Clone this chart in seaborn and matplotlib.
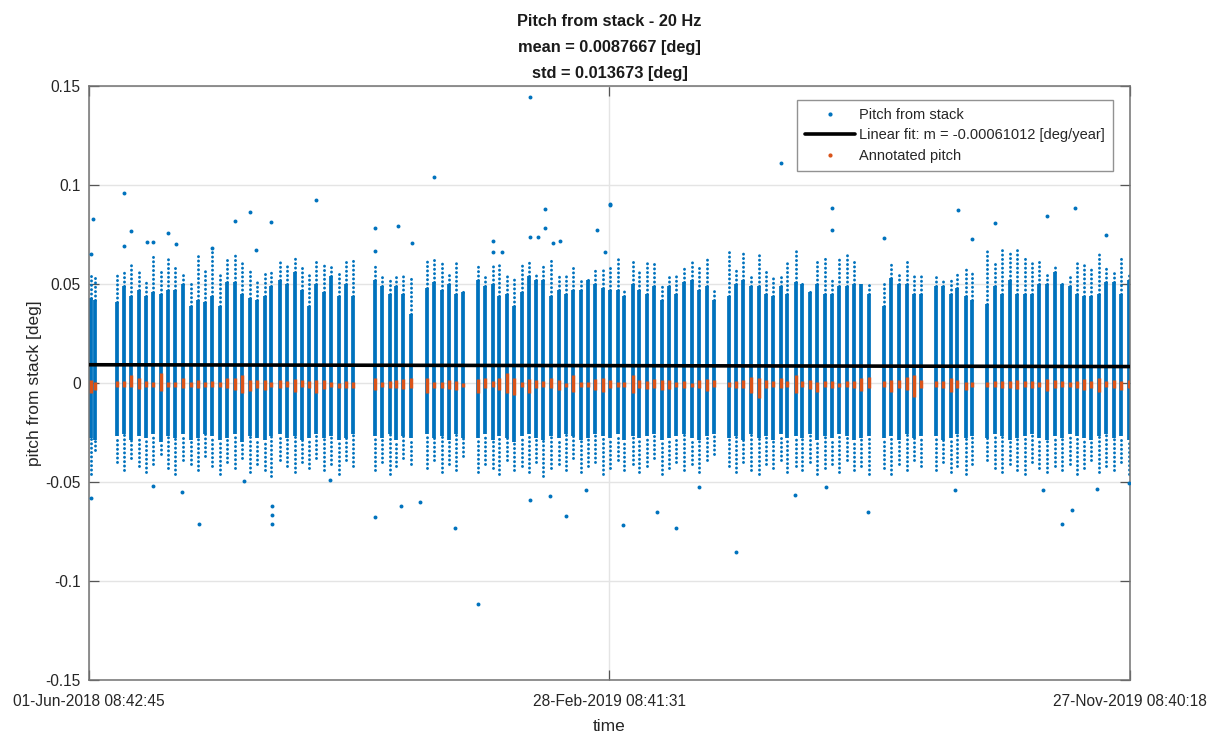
import numpy as np
import pandas as pd
import matplotlib
matplotlib.use("Agg")
import matplotlib.pyplot as plt
import matplotlib.dates as mdates
from matplotlib.lines import Line2D
import seaborn as sns

# ---------------- data ----------------
t_start = "2018-06-01 08:42:45"
t_mid = "2019-02-28 08:41:31"
t_end = "2019-11-27 08:40:18"
xtick_labels = ["01-Jun-2018 08:42:45", "28-Feb-2019 08:41:31", "27-Nov-2019 08:40:18"]
yticks = [-0.15, -0.1, -0.05, 0, 0.05, 0.1, 0.15]
ytick_labels = ["-0.15", "-0.1", "-0.05", "0", "0.05", "0.1", "0.15"]

# days since start for each measurement burst (vertical stripe)
stripe_day = [
    1.0, 3.1,
    14.6, 18.3, 21.9, 26.1, 29.8, 33.4, 37.6, 41.3, 44.9, 49.1, 53.3, 57.0, 60.6, 64.3, 68.5,
    72.2, 76.3, 80.0, 84.1, 87.8, 92.0, 95.1, 99.8, 103.5, 107.7, 111.3, 115.0, 118.6, 122.8,
    126.5, 130.7, 134.3, 138.0,
    149.5, 153.1, 157.3, 160.4, 164.1, 168.3,
    176.6, 180.3, 184.4, 188.1, 191.8, 195.4,
    203.3, 206.9, 211.1, 214.3, 218.4, 222.1, 226.3, 229.9, 233.6, 237.2, 241.4, 245.6, 249.3,
    252.9, 257.1, 260.8, 264.4, 268.6, 272.3, 276.4, 279.6, 284.3, 287.4, 291.6, 295.3, 299.4,
    303.1, 306.8, 310.9, 315.1, 318.8, 323.0, 326.6,
    334.4, 338.1, 341.8, 345.9, 350.1, 353.8, 357.4, 361.6, 364.7, 369.5, 372.6, 376.8, 380.4,
    384.6, 388.3, 391.9, 396.1, 399.8, 403.4, 407.6,
    415.4, 419.1, 423.3, 427.5, 431.1, 434.8,
    442.6, 446.3, 450.5, 453.6, 458.3, 461.4,
    469.3, 473.5, 477.1, 481.3, 484.9, 489.1, 492.8, 496.4, 500.6, 504.8, 508.5, 512.6, 516.3,
    520.0, 523.6, 527.8, 531.5, 535.6, 539.3, 543.5,
]

# top of the dense part of each stripe [deg]
core_hi = [
    0.043, 0.042,
    0.041, 0.049, 0.044, 0.047, 0.044, 0.046, 0.045, 0.047, 0.047, 0.050, 0.039, 0.042, 0.041,
    0.044, 0.039, 0.051, 0.051, 0.045, 0.043, 0.042, 0.044, 0.049, 0.052, 0.050, 0.056, 0.047,
    0.039, 0.050, 0.046, 0.054, 0.044, 0.050, 0.044,
    0.052, 0.049, 0.045, 0.049, 0.045, 0.035,
    0.048, 0.051, 0.047, 0.050, 0.045, 0.046,
    0.052, 0.049, 0.050, 0.044, 0.045, 0.039, 0.046, 0.054, 0.052, 0.052, 0.044, 0.047, 0.045,
    0.047, 0.047, 0.052, 0.050, 0.048, 0.047, 0.047, 0.044, 0.050, 0.047, 0.045, 0.049, 0.042,
    0.049, 0.045, 0.051, 0.052, 0.047, 0.049, 0.042,
    0.044, 0.050, 0.052, 0.049, 0.049, 0.045, 0.044, 0.049, 0.045, 0.051, 0.050, 0.046, 0.050,
    0.045, 0.045, 0.049, 0.049, 0.050, 0.050, 0.045,
    0.039, 0.053, 0.050, 0.050, 0.045, 0.045,
    0.049, 0.049, 0.045, 0.048, 0.044, 0.042,
    0.040, 0.049, 0.045, 0.052, 0.045, 0.045, 0.045, 0.050, 0.050, 0.056, 0.050, 0.049, 0.045,
    0.044, 0.044, 0.045, 0.051, 0.051, 0.045, 0.052,
]

# highest regular (sparse) sample of each stripe [deg]
tail_hi = [
    0.054, 0.054,
    0.056, 0.057, 0.060, 0.056, 0.052, 0.065, 0.057, 0.064, 0.060, 0.055, 0.052, 0.064, 0.057,
    0.068, 0.056, 0.062, 0.066, 0.061, 0.058, 0.052, 0.055, 0.056, 0.061, 0.059, 0.064, 0.059,
    0.056, 0.062, 0.060, 0.060, 0.055, 0.061, 0.062,
    0.059, 0.054, 0.052, 0.055, 0.054, 0.053,
    0.062, 0.064, 0.062, 0.055, 0.062, 0.047,
    0.060, 0.055, 0.060, 0.060, 0.054, 0.054, 0.061, 0.062, 0.056, 0.060, 0.063, 0.055, 0.054,
    0.059, 0.052, 0.053, 0.058, 0.058, 0.060, 0.063, 0.048, 0.062, 0.056, 0.062, 0.061, 0.049,
    0.055, 0.054, 0.059, 0.061, 0.059, 0.064, 0.047,
    0.066, 0.057, 0.066, 0.054, 0.065, 0.057, 0.053, 0.055, 0.061, 0.067, 0.052, 0.048, 0.062,
    0.064, 0.052, 0.064, 0.066, 0.063, 0.050, 0.051,
    0.050, 0.060, 0.055, 0.062, 0.054, 0.055,
    0.054, 0.053, 0.052, 0.056, 0.059, 0.056,
    0.068, 0.060, 0.067, 0.067, 0.067, 0.064, 0.061, 0.062, 0.055, 0.060, 0.051, 0.054, 0.061,
    0.061, 0.058, 0.066, 0.059, 0.056, 0.064, 0.055,
]

# bottom of the dense part of each stripe [deg]
core_lo = [
    -0.028, -0.029,
    -0.027, -0.026, -0.029, -0.027, -0.028, -0.026, -0.030, -0.027, -0.028, -0.026, -0.029,
    -0.028, -0.026, -0.027, -0.029, -0.028, -0.026, -0.030, -0.027, -0.028, -0.029, -0.027,
    -0.026, -0.028, -0.027, -0.029, -0.028, -0.026, -0.028, -0.027, -0.029, -0.028, -0.026,
    -0.027, -0.028, -0.026, -0.029, -0.027, -0.028,
    -0.026, -0.028, -0.027, -0.029, -0.026, -0.028,
    -0.028, -0.026, -0.029, -0.027, -0.028, -0.030, -0.027, -0.026, -0.028, -0.029, -0.027,
    -0.028, -0.026, -0.027, -0.029, -0.028, -0.026, -0.027, -0.028, -0.026, -0.029, -0.027,
    -0.028, -0.027, -0.026, -0.029, -0.028, -0.027, -0.026, -0.028, -0.029, -0.027, -0.026,
    -0.028, -0.027, -0.029, -0.026, -0.028, -0.027, -0.029, -0.026, -0.028, -0.027, -0.028,
    -0.026, -0.029, -0.027, -0.028, -0.026, -0.027, -0.029, -0.028, -0.027,
    -0.028, -0.027, -0.029, -0.026, -0.028, -0.027,
    -0.027, -0.029, -0.028, -0.026, -0.028, -0.027,
    -0.028, -0.026, -0.027, -0.029, -0.028, -0.027, -0.026, -0.028, -0.029, -0.027, -0.028,
    -0.026, -0.027, -0.028, -0.029, -0.027, -0.026, -0.028, -0.027, -0.029,
]

# lowest regular (sparse) sample of each stripe [deg]
tail_lo = [
    -0.046, -0.034,
    -0.040, -0.044, -0.038, -0.042, -0.045, -0.041, -0.036, -0.043, -0.046, -0.039, -0.041,
    -0.044, -0.037, -0.042, -0.046, -0.040, -0.043, -0.038, -0.045, -0.041, -0.044, -0.047,
    -0.039, -0.042, -0.045, -0.040, -0.043, -0.038, -0.044, -0.041, -0.046, -0.039, -0.042,
    -0.044, -0.040, -0.046, -0.042, -0.038, -0.041,
    -0.043, -0.039, -0.045, -0.041, -0.044, -0.037,
    -0.045, -0.041, -0.043, -0.046, -0.039, -0.044, -0.042, -0.045, -0.040, -0.047, -0.043,
    -0.041, -0.044, -0.038, -0.045, -0.042, -0.040, -0.046, -0.043, -0.039, -0.044, -0.041,
    -0.045, -0.042, -0.038, -0.046, -0.043, -0.040, -0.044, -0.041, -0.045, -0.039, -0.036,
    -0.042, -0.045, -0.040, -0.044, -0.046, -0.041, -0.043, -0.039, -0.045, -0.042, -0.044,
    -0.040, -0.046, -0.043, -0.041, -0.045, -0.039, -0.044, -0.042, -0.046,
    -0.043, -0.046, -0.041, -0.044, -0.039, -0.042,
    -0.044, -0.040, -0.045, -0.042, -0.046, -0.041,
    -0.039, -0.043, -0.045, -0.041, -0.044, -0.046, -0.040, -0.043, -0.045, -0.042, -0.044,
    -0.041, -0.046, -0.043, -0.039, -0.045, -0.042, -0.044, -0.040, -0.046,
]

# annotated pitch range per stripe [deg]
annot_hi = [
    0.0015, 0.0007,
    0.0012, 0.0012, 0.0040, 0.0024, 0.0012, 0.0007, 0.0049, 0.0007, 0.0007, 0.0024, 0.0007,
    0.0015, 0.0007, 0.0012, 0.0007, 0.0024, 0.0024, 0.0040, 0.0015, 0.0015, 0.0015, 0.0007,
    0.0015, 0.0012, 0.0018, 0.0015, 0.0012, 0.0015, 0.0015, 0.0007, 0.0002, 0.0012, 0.0007,
    0.0024, 0.0007, 0.0012, 0.0015, 0.0018, 0.0024,
    0.0024, 0.0007, 0.0007, 0.0015, 0.0012, 0.0002,
    0.0018, 0.0024, 0.0012, 0.0024, 0.0049, 0.0024, 0.0007, 0.0018, 0.0015, 0.0012, 0.0024,
    0.0015, 0.0002, 0.0040, 0.0007, 0.0007, 0.0018, 0.0024, 0.0015, 0.0007, 0.0007, 0.0040,
    0.0015, 0.0012, 0.0018, 0.0015, 0.0015, 0.0007, 0.0012, 0.0002, 0.0015, 0.0018, 0.0015,
    0.0007, 0.0012, 0.0015, 0.0032, 0.0024, 0.0015, 0.0012, 0.0024, 0.0012, 0.0040, 0.0012,
    0.0015, 0.0007, 0.0012, 0.0012, 0.0002, 0.0012, 0.0012, 0.0024, 0.0032,
    0.0012, 0.0015, 0.0015, 0.0032, 0.0040, 0.0015,
    0.0012, 0.0012, 0.0024, 0.0015, 0.0007, 0.0007,
    0.0007, 0.0012, 0.0012, 0.0012, 0.0015, 0.0012, 0.0012, 0.0007, 0.0018, 0.0015, 0.0012,
    0.0007, 0.0012, 0.0018, 0.0012, 0.0024, 0.0012, 0.0015, 0.0012, 0.0015,
]
annot_lo = [
    -0.0052, -0.0035,
    -0.0018, -0.0018, -0.0018, -0.0032, -0.0018, -0.0018, -0.0039, -0.0018, -0.0018, -0.0027,
    -0.0018, -0.0027, -0.0018, -0.0022, -0.0018, -0.0027, -0.0035, -0.0052, -0.0039, -0.0027,
    -0.0035, -0.0022, -0.0027, -0.0022, -0.0044, -0.0022, -0.0027, -0.0052, -0.0032, -0.0022,
    -0.0027, -0.0027, -0.0027,
    -0.0035, -0.0022, -0.0027, -0.0027, -0.0032, -0.0027,
    -0.0052, -0.0027, -0.0027, -0.0032, -0.0035, -0.0022,
    -0.0052, -0.0027, -0.0022, -0.0035, -0.0052, -0.0061, -0.0018, -0.0052, -0.0027, -0.0022,
    -0.0027, -0.0035, -0.0018, -0.0044, -0.0018, -0.0022, -0.0035, -0.0044, -0.0027, -0.0018,
    -0.0022, -0.0052, -0.0027, -0.0032, -0.0027, -0.0035, -0.0032, -0.0018, -0.0027, -0.0018,
    -0.0027, -0.0039, -0.0018,
    -0.0018, -0.0027, -0.0027, -0.0052, -0.0078, -0.0027, -0.0022, -0.0027, -0.0022, -0.0052,
    -0.0022, -0.0032, -0.0044, -0.0022, -0.0027, -0.0018, -0.0022, -0.0027, -0.0039, -0.0027,
    -0.0018, -0.0044, -0.0027, -0.0035, -0.0069, -0.0027,
    -0.0022, -0.0027, -0.0044, -0.0027, -0.0035, -0.0022,
    -0.0018, -0.0022, -0.0027, -0.0027, -0.0032, -0.0022, -0.0027, -0.0018, -0.0039, -0.0027,
    -0.0022, -0.0022, -0.0027, -0.0035, -0.0027, -0.0044, -0.0022, -0.0027, -0.0035, -0.0027,
]

# isolated outlier samples (day, value)
outlier_day = [
    2.1, 1.0, 18.3, 18.3, 21.9, 30.3, 33.4, 41.3, 45.5, 64.3, 76.3, 84.1, 87.3, 95.1, 118.6,
    149.5, 149.5, 161.5, 168.8, 180.3, 211.1, 211.1, 215.8, 230.4, 230.4, 234.6, 238.3, 238.3,
    242.5, 246.1, 265.5, 269.7, 272.3, 272.3, 361.6, 388.3, 388.3, 415.4, 454.1, 461.4,
    473.5, 500.6, 515.3, 531.5,
    1.0, 33.4, 48.6, 57.5, 81.0, 95.6, 95.6, 95.6, 126.0, 149.5, 163.0, 173.0, 191.3, 203.3,
    230.4, 240.9, 249.3, 259.7, 279.1, 296.8, 306.8, 319.0, 338.1, 368.9, 385.0, 407.1,
    452.6, 498.5, 508.5, 513.7, 527.0, 543.5,
]
outlier_val = [
    0.083, 0.065, 0.096, 0.069, 0.077, 0.071, 0.071, 0.076, 0.070, 0.068, 0.082, 0.0865,
    0.067, 0.0815, 0.0924, 0.0783, 0.0668, 0.0795, 0.0707, 0.1042, 0.0717, 0.066, 0.066,
    0.1446, 0.0737, 0.0737, 0.0879, 0.0783, 0.0707, 0.0719, 0.0773, 0.0663, 0.0899, 0.0905,
    0.1113, 0.0884, 0.0773, 0.0732, 0.0874, 0.0727, 0.0808, 0.0843, 0.0884, 0.0747,
    -0.058, -0.052, -0.055, -0.0712, -0.0495, -0.062, -0.0667, -0.0712, -0.049, -0.0677,
    -0.062, -0.060, -0.0732, -0.1116, -0.059, -0.057, -0.067, -0.054, -0.0717, -0.065,
    -0.0732, -0.0525, -0.0854, -0.0566, -0.0525, -0.065, -0.054, -0.054, -0.0712, -0.064,
    -0.0535, -0.0505,
]

# linear fit end points (value at start and end of record)
fit_day = [0.0, 544.0]
fit_val = [0.00922, 0.00831]

title_text = "Pitch from stack - 20 Hz\nmean = 0.0087667 [deg]\nstd = 0.013673 [deg]"
legend_labels = ["Pitch from stack",
                 "Linear fit: m = -0.00061012 [deg/year]",
                 "Annotated pitch"]

# ---------------- style ----------------
sns.set_theme(style="white")
plt.rcParams["font.family"] = ["Liberation Sans", "DejaVu Sans"]

BLUE = "#0072BD"
ORANGE = "#D95319"
TXT = "#262626"

t0 = pd.Timestamp(t_start)


def to_num(days):
    return mdates.date2num((t0 + pd.to_timedelta(np.asarray(days), unit="D")).to_pydatetime())


xs = to_num(stripe_day)
x_out = to_num(outlier_day)
x_fit = to_num(fit_day)
x_ticks = mdates.date2num([pd.Timestamp(t).to_pydatetime() for t in (t_start, t_mid, t_end)])

fig, ax = plt.subplots(figsize=(12.22, 7.34), dpi=100)
fig.subplots_adjust(left=0.0728, right=0.9247, bottom=0.0736, top=0.8828)

# dense core of each burst
ax.vlines(xs, core_lo, core_hi, color=BLUE, lw=2.7, zorder=2)
# sparse extensions (dotted, round dots)
ax.vlines(xs, core_hi, tail_hi, color=BLUE, lw=2.1, linestyles=[(0, (0.05, 1.45))],
          capstyle="round", zorder=2)
ax.vlines(xs, tail_lo, core_lo, color=BLUE, lw=2.1, linestyles=[(0, (0.05, 1.45))],
          capstyle="round", zorder=2)
# isolated samples
sns.scatterplot(x=x_out, y=outlier_val, ax=ax, color=BLUE, s=8, linewidth=0, zorder=3)

# annotated pitch
ax.vlines(xs, annot_lo, annot_hi, color=ORANGE, lw=2.5, zorder=4)

# linear fit
sns.lineplot(x=x_fit, y=fit_val, ax=ax, color="black", lw=2.6, zorder=5)

# axes
ax.set_xlim(x_ticks[0], x_ticks[-1])
ax.set_ylim(-0.15, 0.15)
ax.set_xticks(x_ticks)
ax.set_xticklabels(xtick_labels, fontsize=11.2, color=TXT)
ax.set_yticks(yticks)
ax.set_yticklabels(ytick_labels, fontsize=11.2, color=TXT)
ax.tick_params(axis="both", direction="in", length=7, width=0.9, color="#555555",
               top=True, right=True, bottom=True, left=True)
ax.tick_params(axis="x", pad=10)
ax.tick_params(axis="y", pad=6)
ax.grid(True, color="#e4e4e4", lw=1.0)
ax.set_axisbelow(True)
for sp in ax.spines.values():
    sp.set_color("#727272")
    sp.set_linewidth(1.1)

ax.set_xlabel("time", fontsize=12.5, color=TXT, labelpad=7)
ax.set_ylabel("pitch from stack [deg]", fontsize=12.5, color=TXT, labelpad=2)
ax.set_title(title_text, fontsize=11.8, fontweight="bold", color="#1a1a1a",
             linespacing=1.9, pad=6)

handles = [
    Line2D([], [], marker=".", ls="none", color=BLUE, markersize=4),
    Line2D([], [], color="black", lw=2.6),
    Line2D([], [], marker=".", ls="none", color=ORANGE, markersize=4),
]
leg = ax.legend(handles, legend_labels, loc="upper right", bbox_to_anchor=(0.9835, 0.977),
                fontsize=10.5, frameon=True, fancybox=False, handlelength=3.4,
                handletextpad=0.3, borderpad=0.55, labelspacing=0.45, borderaxespad=0)
leg.get_frame().set_edgecolor("#777777")
leg.get_frame().set_linewidth(1.0)
leg.set_zorder(10)

fig.savefig("out.png", dpi=100)
